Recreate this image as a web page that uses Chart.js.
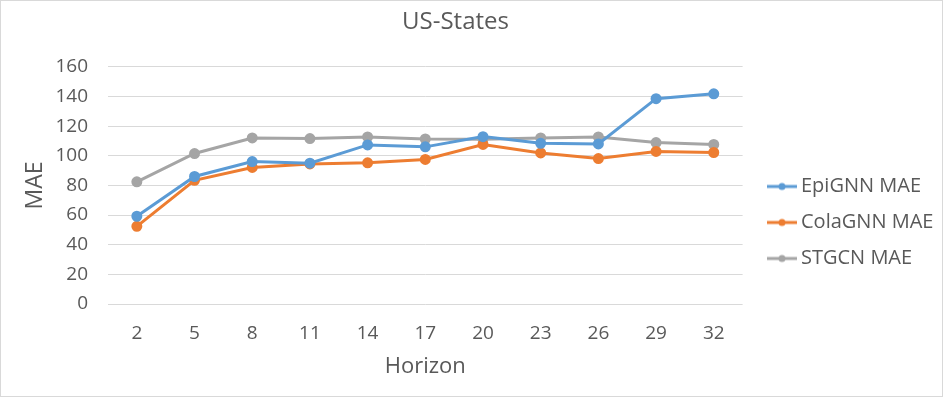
<!DOCTYPE html>
<html>
<head>
<meta charset="utf-8">
<style>
  html, body { margin: 0; padding: 0; background: #ffffff; }
  #wrap { width: 943px; height: 397px; }
</style>
<script src="https://cdn.jsdelivr.net/npm/chart.js@4.4.1/dist/chart.umd.min.js"></script>
</head>
<body>
<div id="wrap"><canvas id="c" width="943" height="397"></canvas></div>
<script>
const horizons = ["2", "5", "8", "11", "14", "17", "20", "23", "26", "29", "32"];
const epignnMAE = [59.2, 86.0, 96.1, 95.0, 107.3, 106.0, 112.9, 108.4, 108.0, 138.5, 141.8];
const colagnnMAE = [52.4, 83.4, 92.1, 94.5, 95.2, 97.5, 107.6, 101.9, 98.1, 102.9, 102.2];
const stgcnMAE = [82.4, 101.5, 112.0, 111.6, 112.7, 111.3, 111.1, 112.0, 112.7, 108.9, 107.6];
const seriesNames = ["EpiGNN MAE", "ColaGNN MAE", "STGCN MAE"];
const seriesColors = ["#5B9BD5", "#ED7D31", "#A5A5A5"];
const yTicks = [0, 20, 40, 60, 80, 100, 120, 140, 160];

const FONT = "'Open Sans', 'Noto Sans', sans-serif";
const TEXT = "#595959";

function legendIcon(color) {
  const cv = document.createElement('canvas');
  cv.width = 30; cv.height = 10;
  const g = cv.getContext('2d');
  g.strokeStyle = color; g.lineWidth = 3;
  g.beginPath(); g.moveTo(0, 5); g.lineTo(30, 5); g.stroke();
  g.fillStyle = color;
  g.beginPath(); g.arc(15, 5, 3.5, 0, Math.PI * 2); g.fill();
  return cv;
}
const icons = seriesColors.map(legendIcon);

const bgPlugin = {
  id: 'bg',
  beforeDraw(chart) {
    const ctx = chart.ctx;
    ctx.save();
    ctx.fillStyle = '#ffffff';
    ctx.fillRect(0, 0, chart.width, chart.height);
    ctx.strokeStyle = '#d9d9d9';
    ctx.lineWidth = 1;
    ctx.strokeRect(0.5, 0.5, chart.width - 1, chart.height - 1);
    ctx.restore();
  }
};
const legendPos = {
  id: 'legendPos',
  afterLayout(chart) {
    const lg = chart.legend;
    const dx = 757 - lg.left;
    const dy = 24;
    lg.left += dx; lg.right += dx;
    lg.top += dy; lg.bottom += dy;
    const tb = chart.titleBlock;
    if (tb) { tb.left -= 9; tb.right -= 9; }
  }
};

function ds(name, data, color) {
  return {
    label: name, data: data,
    borderColor: color, backgroundColor: color,
    borderWidth: 3, pointRadius: 4, pointHoverRadius: 4,
    pointBackgroundColor: color, pointBorderColor: color,
    tension: 0, fill: false
  };
}

new Chart(document.getElementById('c'), {
  type: 'line',
  data: {
    labels: horizons,
    datasets: [
      ds(seriesNames[0], epignnMAE, seriesColors[0]),
      ds(seriesNames[1], colagnnMAE, seriesColors[1]),
      ds(seriesNames[2], stgcnMAE, seriesColors[2])
    ]
  },
  options: {
    responsive: false,
    animation: false,
    layout: { padding: { left: 0, right: 14, top: 0, bottom: 0 } },
    plugins: {
      title: {
        display: true, text: 'US-States', color: TEXT,
        font: { family: FONT, size: 24, weight: 'normal' },
        padding: { top: 8, bottom: 30 }
      },
      legend: {
        display: true, position: 'right',
        labels: {
          color: TEXT, font: { family: FONT, size: 20 },
          usePointStyle: true, pointStyleWidth: 18, padding: 16,
          generateLabels(chart) {
            const items = Chart.defaults.plugins.legend.labels.generateLabels(chart);
            items.forEach((it, i) => { it.pointStyle = icons[i]; });
            return items;
          }
        }
      },
      tooltip: { enabled: false }
    },
    scales: {
      x: {
        offset: true,
        grid: { display: false, drawTicks: false },
        border: { display: false },
        ticks: { color: TEXT, font: { family: FONT, size: 19 }, padding: 18, maxRotation: 0 },
        title: { display: true, text: 'Horizon', color: TEXT, font: { family: FONT, size: 22 }, padding: { top: 0, bottom: 17 } },
        afterFit(s) { s.height = 93; }
      },
      y: {
        min: 0, max: 160,
        afterBuildTicks(s) { s.ticks = yTicks.map(v => ({ value: v })); },
        grid: { color: '#d9d9d9', lineWidth: 1, drawTicks: false },
        border: { display: false },
        ticks: { color: TEXT, font: { family: FONT, size: 19 }, padding: 20 },
        title: { display: true, text: 'MAE', color: TEXT, font: { family: FONT, size: 23 }, padding: { top: 22, bottom: 0 } },
        afterFit(s) { s.width = 108; }
      }
    }
  },
  plugins: [bgPlugin, legendPos]
});
</script>
</body>
</html>
